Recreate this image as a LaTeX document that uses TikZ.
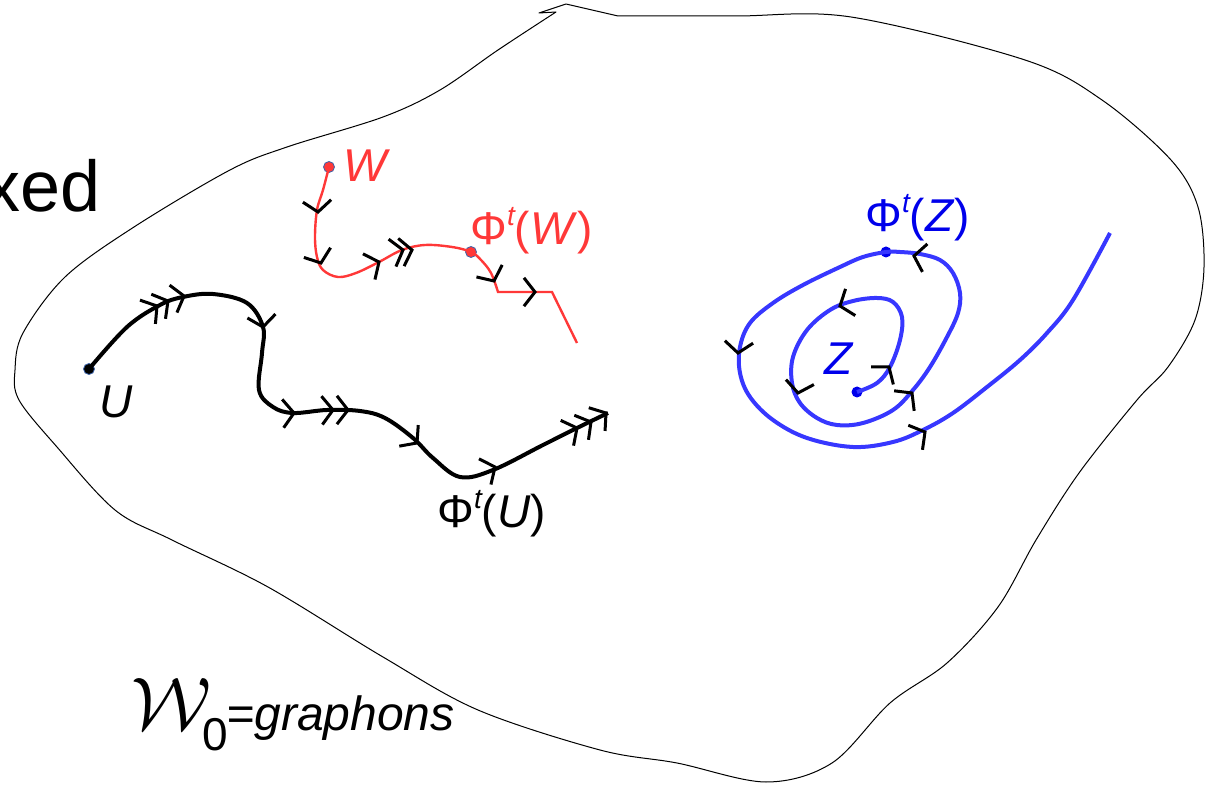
\documentclass[tikz,border=0pt]{standalone}
\usepackage{graphicx}
\usepackage{fontspec}
\setmainfont{Liberation Sans}
\definecolor{myred}{RGB}{255,56,56}
\definecolor{myblue}{RGB}{55,55,255}
\definecolor{tblue}{RGB}{0,0,235}
\definecolor{dotedge}{RGB}{60,100,170}
\tikzset{
  outline/.style={draw=black, line width=0.5pt, line join=round},
  ucurve/.style={draw=black, line width=2pt},
  wcurve/.style={draw=myred, line width=1.2pt},
  zcurve/.style={draw=myblue, line width=2pt},
  chevst/.style={draw=black, line width=1.5pt},
  dot/.style={circle, inner sep=0pt, minimum size=5.5pt},
  lbl/.style={inner sep=0pt, anchor=base west, font=\fontsize{23}{27}\selectfont},
}
\newcommand\supt{\raisebox{0.42em}{\fontsize{14}{16}\selectfont\itshape t}}
\newcommand\chev[3]{\draw[chevst] (#1,#2) ++(#3+128:18) -- (#1,#2) -- ++(#3-128:18);}
\begin{document}
\begin{tikzpicture}[x=0.5pt, y=-0.5pt]
\useasboundingbox (0,0) rectangle (1205,785);
% outline region
\draw[outline] plot[smooth, tension=0.55] coordinates {(618,16) (735,16) (851,17) (1025,60) (1102,100) (1171,160) (1198,207) (1204,267) (1195,320) (1168,367) (1137,400) (1079,473) (1036,540) (998,607) (947,663) (890,703) (832,763) (766,782) (677,763) (600,750) (478,710) (383,657) (268,587) (172,540) (115,510) (57,447) (19,400) (15,370) (23,333) (65,277) (134,227) (230,170) (287,147) (383,117) (440,90) (498,50) (556,12)} -- (539,13) -- (566,4) -- cycle;

\node[anchor=base east, inner sep=0pt, font=\fontsize{36}{40}\selectfont] (xed) at (101,212) {xed};

% dots
\node[dot, fill=black, draw=dotedge, line width=0.4pt] (U) at (89,369) {};
\node[dot, fill=myred, draw=dotedge, line width=0.4pt] (W) at (329,167) {};
\node[dot, fill=myred, draw=dotedge, line width=0.4pt] (PW) at (471,252) {};
\node[dot, fill=tblue] (Z) at (857,392) {};
\node[dot, fill=tblue] (PZ) at (886,252) {};

% black trajectory
\draw[ucurve] plot[smooth, tension=0.6] coordinates {(U.center) (127,327) (160,305) (183,297) (213,294) (247,303) (263,327) (262,353) (259,390) (273,407) (293,413) (327,410) (360,411) (385,418) (413,438) (433,458) (460,477) (493,470) (543,445) (577,428) (608,413)};
% red trajectory
\draw[wcurve] plot[smooth, tension=0.6] coordinates {(W.center) (323,190) (317,210) (315,237) (317,257) (323,270) (338,277) (356,273) (379,262) (402,250) (425,245) (452,247) (PW.center) (481,260) (491,273) (498,292)} -- (552,292) -- (577,343);
% blue trajectory
\draw[zcurve] plot[smooth, tension=0.6] coordinates {(Z.center) (877,383) (890,367) (900,340) (902,317) (893,302) (877,298) (853,301) (830,310) (807,330) (793,357) (792,383) (800,403) (817,418) (837,425) (863,423) (893,410) (913,390) (930,367) (947,337) (958,313) (960,293) (953,273) (940,260) (920,254) (900,252) (PZ.center) (863,257) (840,267) (803,285) (773,303) (750,323) (740,347) (740,373) (750,397) (773,420) (807,438) (853,447) (893,442) (923,430) (953,413) (987,387) (1020,360) (1047,333) (1073,300) (1110,233)};

% chevrons on black
\chev{157}{306}{-33}
\chev{168}{301}{-30}
\chev{184}{296}{-15}
\chev{263}{327}{82}
\chev{294}{413}{-3}
\chev{333}{410}{-2}
\chev{348}{410}{0}
\chev{417}{443}{42}
\chev{495}{467}{-25}
\chev{577}{428}{-27}
\chev{591}{422}{-30}
\chev{606}{413}{-35}
% chevrons on red
\chev{318}{212}{85}
\chev{321}{263}{70}
\chev{379}{262}{-25}
\chev{403}{250}{-15}
\chev{412}{250}{-12}
\chev{494}{281}{65}
\chev{535}{292}{0}
% chevrons on blue
\chev{914}{256}{190}
\chev{840}{306}{160}
\chev{738}{353}{95}
\chev{798}{393}{100}
\chev{889}{367}{-52}
\chev{912}{393}{-45}
\chev{925}{432}{-30}

% labels
\node[lbl] (Ul) at (99,418) {\textit{U}};
\node[lbl] (PUl) at (437,528) {Φ\supt(\textit{U})};
\node[lbl, text=myred] (Wl) at (343,182) {\textit{W}};
\node[lbl, text=myred] (PWl) at (470,245) {Φ\supt(\textit{W})};
\node[lbl, text=tblue] (Zl) at (824,375) {\textit{Z}};
\node[lbl, text=tblue] (PZl) at (865,232) {Φ\supt(\textit{Z})};

\node[anchor=base west, inner sep=0pt] (calW) at (131,729) {\scalebox{1.5}{\fontsize{24.88}{28}\selectfont$\mathcal{W}$}};
\node[anchor=base west, inner sep=0pt, font=\fontsize{23}{27}\selectfont] (sub0) at (202,750) {0};
\node[anchor=base west, inner sep=0pt, font=\fontsize{24}{28}\selectfont\itshape] (gr) at (226,731) {=graphons};
\end{tikzpicture}
\end{document}
